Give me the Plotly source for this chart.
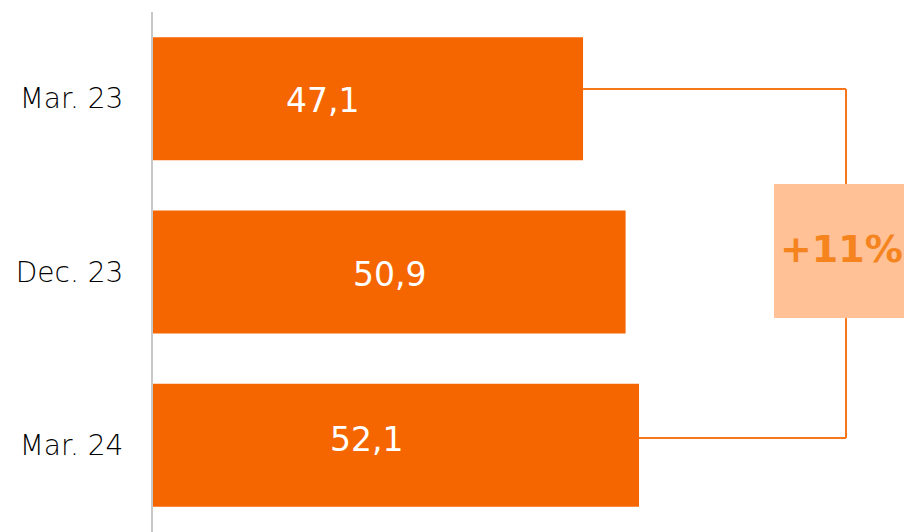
import plotly.graph_objects as go

# Data
categories = ["Mar. 23", "Dec. 23", "Mar. 24"]
values = [47.1, 50.9, 52.1]
value_labels = ["47,1", "50,9", "52,1"]

BAR_COLOR = "#F56600"
LINE_COLOR = "#F5771A"
BOX_FILL = "#FFC195"
BOX_TEXT = "#F5841F"
FONT = "DejaVu Sans"

X_MIN, X_MAX = 8.7, 75.76

fig = go.Figure()
fig.add_trace(go.Bar(
    y=categories,
    x=[v - X_MIN for v in values],
    base=X_MIN,
    orientation="h",
    marker=dict(color=BAR_COLOR, line=dict(width=0)),
    width=0.71,
    hoverinfo="skip",
))

# value labels inside bars (pixel nudges per label)
label_shift = [(-46, -2), (0, -2), (-30, 6)]
for cat, v, txt, (dx, dy) in zip(categories, values, value_labels, label_shift):
    fig.add_annotation(
        x=(X_MIN + v) / 2, y=cat, xref="x", yref="y",
        text=txt, showarrow=False, xshift=dx, yshift=dy,
        font=dict(family=FONT, size=33, color="white"),
    )

# bracket connecting first and last bar with the change label
bx = 70.58
y_top, y_bot = -0.056, 1.958
box_y0, box_y1 = 0.492, 1.266
first, last = values[0], values[-1]
for seg in [
    (first, y_top, bx, y_top),
    (bx, y_top, bx, box_y0),
    (bx, box_y1, bx, y_bot),
    (last, y_bot, bx, y_bot),
]:
    fig.add_shape(type="line", xref="x", yref="y",
                  x0=seg[0], y0=seg[1], x1=seg[2], y1=seg[3],
                  line=dict(color=LINE_COLOR, width=2))

fig.add_shape(type="rect", xref="x", yref="y",
              x0=64.15, x1=X_MAX, y0=box_y0, y1=box_y1,
              fillcolor=BOX_FILL, line=dict(width=0), layer="above")

change = round((last / first - 1) * 100)
fig.add_annotation(
    x=(64.15 + X_MAX) / 2, y=(box_y0 + box_y1) / 2, xref="x", yref="y",
    text=f"<b>+{change}%</b>", showarrow=False, xshift=3, yshift=2,
    font=dict(family=FONT, size=38, color=BOX_TEXT),
)

fig.update_layout(
    width=904, height=532,
    margin=dict(l=153, r=0, t=12, b=0, pad=0),
    paper_bgcolor="white", plot_bgcolor="white",
    showlegend=False,
    font=dict(family=FONT),
    bargap=0.29,
)
fig.update_xaxes(range=[X_MIN, X_MAX], visible=False, showgrid=False, zeroline=False)
fig.update_yaxes(
    autorange="reversed",
    showgrid=False, zeroline=False,
    showline=True, linecolor="#C8C8C8", linewidth=2,
    ticks="", ticklabelstandoff=22,
    tickfont=dict(family=FONT, size=28, color="#000000", weight=300),
)

fig.write_html("out.html")
